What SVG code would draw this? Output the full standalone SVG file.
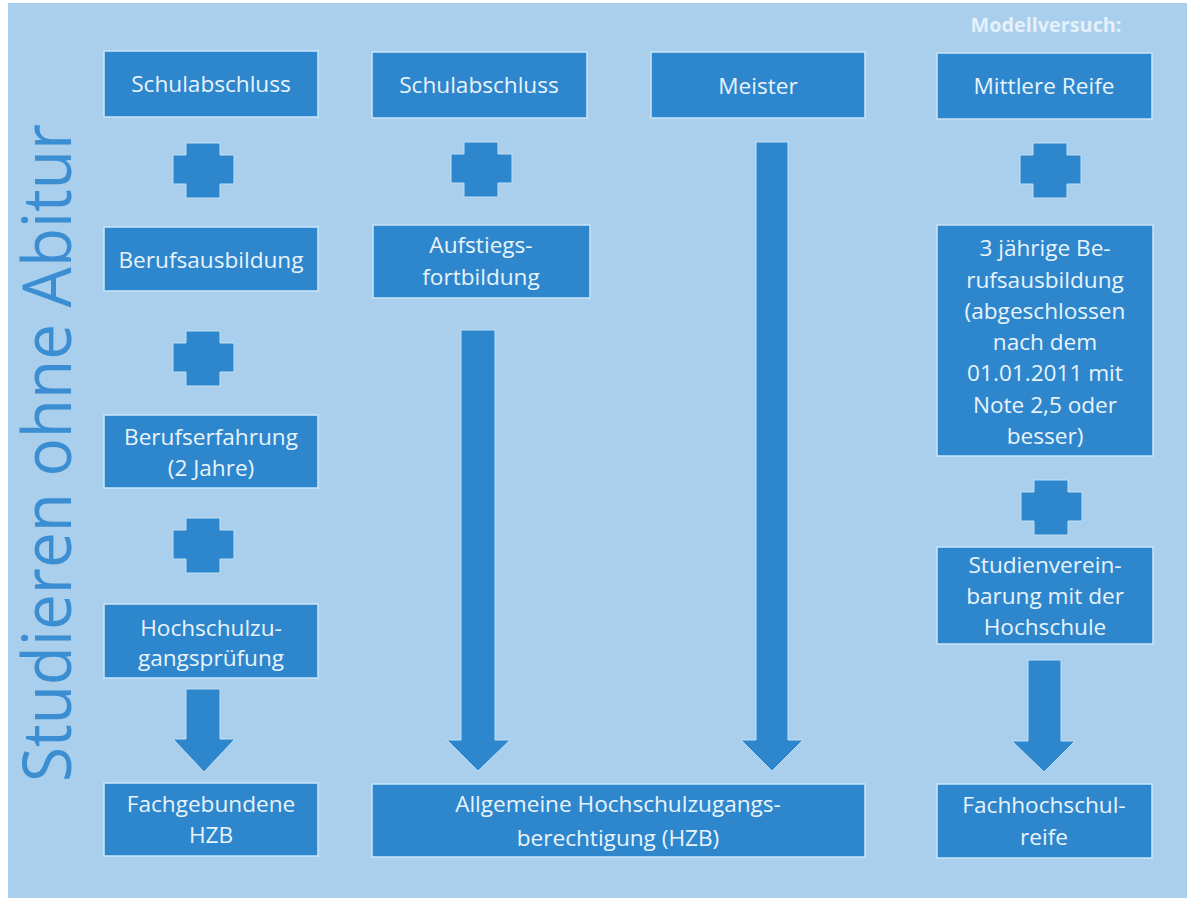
<svg xmlns="http://www.w3.org/2000/svg" xmlns:xlink="http://www.w3.org/1999/xlink" width="1187" height="898" viewBox="0 0 1187 898">
<style>
.bg{fill:#a9cfec}
.box{fill:#2e87cd;stroke:#c9e6f8;stroke-width:1.5}
.shape{fill:#2e87cd;stroke:#c0e0f5;stroke-width:1}
.t{font-family:"Open Sans","Noto Sans","DejaVu Sans",sans-serif;font-size:22.6px;fill:#e8f3fb;text-anchor:middle}
.title{font-family:"Open Sans","Noto Sans",sans-serif;font-size:67px;fill:#3b8ed2}
.hdr{font-family:"Open Sans","Noto Sans",sans-serif;font-weight:bold;font-size:19px;fill:#e4f1fb;text-anchor:middle}
</style>
<defs>
<path id="plus" d="M13,0 H47 V12 H61 V41 H47 V55 H13 V41 H0 V12 H13 Z"/>
</defs>
<rect x="0" y="0" width="1187" height="898" fill="#ffffff"/>
<rect class="bg" x="8" y="3" width="1179" height="895"/>
<text class="title" transform="translate(71,782) rotate(-90)" textLength="658" lengthAdjust="spacingAndGlyphs">Studieren ohne Abitur</text>
<text class="hdr" x="1046" y="32" textLength="151" lengthAdjust="spacingAndGlyphs">Modellversuch:</text>

<g id="n-schulabschluss-1"><rect class="box" x="104" y="51" width="214" height="66"/><text class="t" x="211" y="92">Schulabschluss</text></g>
<g id="n-berufsausbildung"><rect class="box" x="104" y="227" width="214" height="64"/><text class="t" x="211" y="268">Berufsausbildung</text></g>
<g id="n-berufserfahrung"><rect class="box" x="104" y="415" width="214" height="73"/><text class="t" x="211" y="445">Berufserfahrung</text><text class="t" x="211" y="476">(2 Jahre)</text></g>
<g id="n-hochschulzugangspruefung"><rect class="box" x="104" y="604" width="214" height="74"/><text class="t" x="211" y="636">Hochschulzu-</text><text class="t" x="211" y="666">gangsprüfung</text></g>
<g id="n-fachgebundene-hzb"><rect class="box" x="104" y="783" width="214" height="73"/><text class="t" x="211" y="812">Fachgebundene</text><text class="t" x="211" y="843">HZB</text></g>

<g id="n-schulabschluss-2"><rect class="box" x="372" y="52" width="215" height="66"/><text class="t" x="479" y="93">Schulabschluss</text></g>
<g id="n-aufstiegsfortbildung"><rect class="box" x="373" y="225" width="217" height="73"/><text class="t" x="481" y="253">Aufstiegs-</text><text class="t" x="481" y="285">fortbildung</text></g>

<g id="n-meister"><rect class="box" x="651" y="52" width="214" height="66"/><text class="t" x="758" y="94">Meister</text></g>

<g id="n-allgemeine-hzb"><rect class="box" x="372" y="784" width="493" height="73"/><text class="t" x="618" y="812">Allgemeine Hochschulzugangs-</text><text class="t" x="618" y="846">berechtigung (HZB)</text></g>

<g id="n-mittlere-reife"><rect class="box" x="937" y="53" width="215" height="66"/><text class="t" x="1044" y="94">Mittlere Reife</text></g>
<g id="n-berufsausbildung-3j"><rect class="box" x="937" y="225" width="216" height="231"/>
<text class="t" x="1045" y="256">3 jährige Be-</text>
<text class="t" x="1045" y="288">rufsausbildung</text>
<text class="t" x="1045" y="319">(abgeschlossen</text>
<text class="t" x="1045" y="350">nach dem</text>
<text class="t" x="1045" y="381">01.01.2011 mit</text>
<text class="t" x="1045" y="413">Note 2,5 oder</text>
<text class="t" x="1045" y="444">besser)</text></g>
<g id="n-studienvereinbarung"><rect class="box" x="937" y="547" width="216" height="97"/>
<text class="t" x="1045" y="573">Studienverein-</text>
<text class="t" x="1045" y="604">barung mit der</text>
<text class="t" x="1045" y="635">Hochschule</text></g>
<g id="n-fachhochschulreife"><rect class="box" x="937" y="784" width="215" height="74"/><text class="t" x="1044" y="813">Fachhochschul-</text><text class="t" x="1044" y="845">reife</text></g>

<g id="connectors">
<use class="shape" href="#plus" xlink:href="#plus" x="173" y="143"/>
<use class="shape" href="#plus" xlink:href="#plus" x="173" y="331"/>
<use class="shape" href="#plus" xlink:href="#plus" x="173" y="518"/>
<use class="shape" href="#plus" xlink:href="#plus" x="451" y="142"/>
<use class="shape" href="#plus" xlink:href="#plus" x="1020" y="143"/>
<use class="shape" href="#plus" xlink:href="#plus" x="1021" y="480"/>
<polygon class="shape" points="186,689 220,689 220,739 235,739 204,772 173,739 186,739"/>
<polygon class="shape" points="461,330 495,330 495,740 510,740 478,771 447,740 461,740"/>
<polygon class="shape" points="756,142 788,142 788,740 803,740 772,771 741,740 756,740"/>
<polygon class="shape" points="1028,660 1061,660 1061,741 1075,741 1044,772 1012,741 1028,741"/>
</g>
</svg>
